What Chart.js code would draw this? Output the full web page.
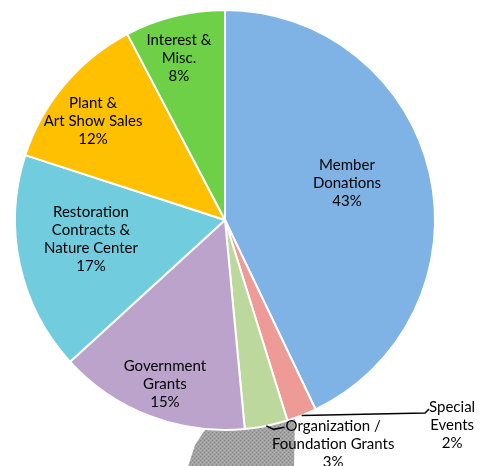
<!DOCTYPE html>
<html><head><meta charset="utf-8">
<script src="https://cdn.jsdelivr.net/npm/chart.js@4/dist/chart.umd.min.js"></script>
<style>html,body{margin:0;padding:0;background:#fff;overflow:hidden}</style>
</head><body>
<canvas id="c" width="483" height="466" style="width:483px;height:466px;display:block"></canvas>
<script>
const categories = [["Member","Donations"],["Special","Events"],["Organization /","Foundation Grants"],["Government","Grants"],["Restoration","Contracts &","Nature Center"],["Plant &","Art Show Sales"],["Interest &","Misc."]];
const shares = [42.9, 2.3, 3.3, 14.7, 16.8, 12.3, 7.7];
const percentLabels = ["43%","2%","3%","15%","17%","12%","8%"];
const sliceColors = ["#7FB2E5","#EE9B97","#BDD89C","#BBA3CB","#71CCDE","#FEC000","#6ED046"];

// label placement relative to each slice's mid-angle (degrees), radius factor
const placements = [
  {da:-4.1, f:0.607},
  {da:-26.5, f:1.457, leader:{ex:-4, ey:6, tx:0, ty:2}},
  {da:-14.4, f:1.186, leader:{ex:-12, ey:3, tx:-1, ty:1}},
  {da:-1, f:0.834},
  {da:3.96, f:0.645},
  {da:-3.4, f:0.784},
  {da:-2, f:0.802}
];
const FONT = '15px Lato, "Open Sans", sans-serif';
const LINE_H = 18;

const shadowPlugin = {
  id:'shadowDeco',
  beforeDatasetsDraw(chart){
    const arc = chart.getDatasetMeta(0).data[0];
    const {x:cx, y:cy} = arc.getProps(['x','y'], true);
    const ctx = chart.ctx;
    const pc = document.createElement('canvas'); pc.width=4; pc.height=4;
    const p = pc.getContext('2d');
    p.fillStyle='#a2a2a2'; p.fillRect(0,0,4,4);
    p.fillStyle='#858585'; p.fillRect(0,0,1,1); p.fillRect(2,2,1,1);
    p.fillStyle='#b4b4b4'; p.fillRect(2,0,1,1); p.fillRect(0,2,1,1);
    ctx.save();
    ctx.fillStyle = ctx.createPattern(pc,'repeat');
    ctx.beginPath();
    ctx.moveTo(cx-18, cy+195);
    ctx.lineTo(cx+70, cy+195);
    ctx.lineTo(cx+69, cy+250);
    ctx.lineTo(cx-38, cy+250);
    ctx.lineTo(cx-30, cy+225);
    ctx.lineTo(cx-20, cy+210);
    ctx.closePath();
    ctx.fill();
    ctx.restore();
  }
};

const labelPlugin = {
  id:'sliceLabels',
  afterDatasetsDraw(chart){
    const ctx = chart.ctx;
    const meta = chart.getDatasetMeta(0);
    ctx.save();
    ctx.font = FONT;
    ctx.fillStyle = '#000';
    ctx.textAlign = 'center';
    ctx.textBaseline = 'middle';
    meta.data.forEach((arc, i) => {
      const {x, y, startAngle, endAngle, outerRadius} = arc.getProps(['x','y','startAngle','endAngle','outerRadius'], true);
      const pl = placements[i];
      const mid = (startAngle + endAngle) / 2;
      const a = mid + pl.da * Math.PI / 180;
      const lx = x + Math.cos(a) * outerRadius * pl.f;
      const ly = y + Math.sin(a) * outerRadius * pl.f;
      const lines = categories[i].concat([percentLabels[i]]);
      const top = ly - (lines.length - 1) * LINE_H / 2;
      lines.forEach((t, k) => ctx.fillText(t, lx, top + k * LINE_H));
      if (pl.leader) {
        const w = ctx.measureText(lines[0]).width;
        const left = lx - w / 2;
        const sx = x + Math.cos(mid) * outerRadius;
        const sy = y + Math.sin(mid) * outerRadius;
        ctx.beginPath();
        ctx.strokeStyle = '#000';
        ctx.lineWidth = 1.5;
        ctx.moveTo(sx, sy);
        ctx.lineTo(left + pl.leader.ex, top + pl.leader.ey);
        ctx.lineTo(left + pl.leader.tx, top + pl.leader.ty);
        ctx.stroke();
      }
    });
    ctx.restore();
  }
};

new Chart(document.getElementById('c'), {
  type:'pie',
  data:{
    labels: categories.map(c => c.join(' ')),
    datasets:[{
      data: shares,
      backgroundColor: sliceColors,
      borderColor: '#ffffff',
      borderWidth: 2,
      hoverOffset: 0
    }]
  },
  options:{
    responsive:false,
    devicePixelRatio:1,
    animation:false,
    radius:210,
    layout:{padding:{left:0,right:33,top:0,bottom:26}},
    plugins:{legend:{display:false}, tooltip:{enabled:false}}
  },
  plugins:[shadowPlugin, labelPlugin]
});
</script>
</body></html>
